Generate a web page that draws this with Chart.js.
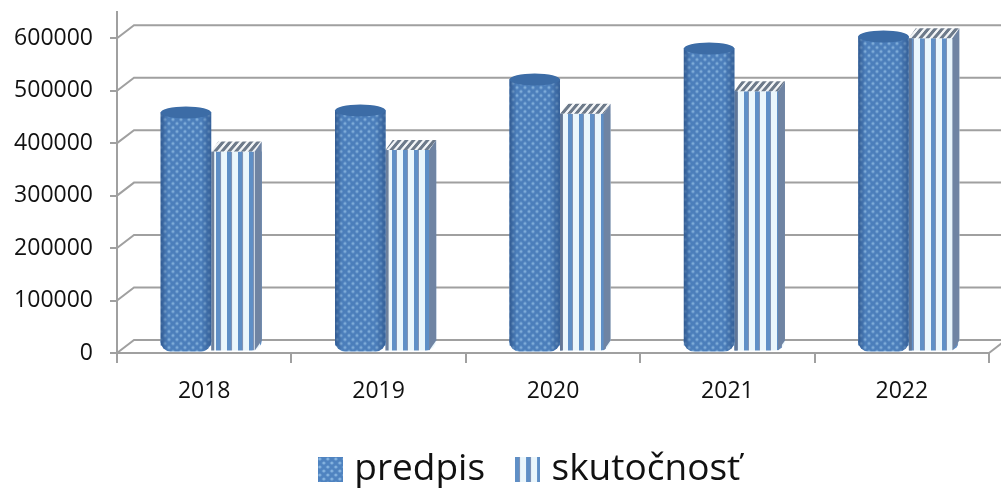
<!DOCTYPE html>
<html>
<head>
<meta charset="utf-8">
<style>
  html, body { margin: 0; background: #fff; }
  canvas { display: block; }
</style>
<script src="https://cdn.jsdelivr.net/npm/chart.js@4"></script>
</head>
<body>
<canvas id="chart" width="1001" height="488"></canvas>
<script>
const years = ['2018', '2019', '2020', '2021', '2022'];
const predpis = [446000, 450000, 509000, 568000, 591000];
const skutocnost = [381000, 384000, 453000, 496000, 597000];
const seriesNames = ['predpis', 'skutočnosť'];
const yTicks = [0, 100000, 200000, 300000, 400000, 500000, 600000];

const GRID = '#a0a0a0';
const FONT = "'Open Sans', sans-serif";
const DEPTH_X = 17, DEPTH_Y = 13;

function makeTile(w, h, paint) {
  const c = document.createElement('canvas');
  c.width = w; c.height = h;
  paint(c.getContext('2d'));
  return c;
}

// dotted fill of the cylinders
const dotTile = makeTile(8, 8, g => {
  g.fillStyle = '#4f83c0';
  g.fillRect(0, 0, 8, 8);
  g.fillStyle = '#86b4e0';
  [[2, 2], [6, 6]].forEach(p => {
    g.beginPath();
    g.arc(p[0], p[1], 1.6, 0, Math.PI * 2);
    g.fill();
  });
});

// vertical stripes of the boxes
const stripeTile = makeTile(11, 4, g => {
  g.fillStyle = '#eaf6fc';
  g.fillRect(0, 0, 11, 4);
  g.fillStyle = '#5f8fc6';
  g.fillRect(0, 0, 4, 4);
  g.fillStyle = '#7f93b5';
  g.fillRect(4, 0, 1, 4);
});

const capTile = makeTile(7, 4, g => {
  g.fillStyle = '#f2f4f6';
  g.fillRect(0, 0, 7, 4);
  g.fillStyle = '#6d7a8a';
  g.fillRect(0, 0, 4, 4);
});

function legendSwatch(tile, size) {
  return makeTile(size, size, g => {
    g.fillStyle = g.createPattern(tile, 'repeat');
    g.fillRect(0, 0, size, size);
  });
}

const ctxMain = document.getElementById('chart').getContext('2d');
const dotFill = ctxMain.createPattern(dotTile, 'repeat');
const stripeFill = ctxMain.createPattern(stripeTile, 'repeat');
const capFill = ctxMain.createPattern(capTile, 'repeat');
capFill.setTransform(new DOMMatrix([1, 0, -0.85, 1, 0, 0]));

// legend sits right of the page centre, under the plot
const legendShift = {
  id: 'legendShift',
  afterLayout(chart) {
    chart.legend.left += 38;
    chart.legend.right += 38;
  }
};

// back wall and the slanted lines joining it to the axis
const wallPlugin = {
  id: 'wall',
  beforeDatasetsDraw(chart) {
    const { ctx, chartArea, scales } = chart;
    ctx.save();
    ctx.strokeStyle = GRID;
    ctx.lineWidth = 2;
    scales.y.ticks.forEach(t => {
      const y = scales.y.getPixelForValue(t.value);
      ctx.beginPath();
      ctx.moveTo(chartArea.left, y);
      ctx.lineTo(chartArea.left + DEPTH_X, y - DEPTH_Y);
      ctx.lineTo(chartArea.right + DEPTH_X, y - DEPTH_Y);
      ctx.stroke();
    });
    const y0 = scales.y.getPixelForValue(0);
    ctx.beginPath();
    ctx.moveTo(chartArea.right, y0);
    ctx.lineTo(chartArea.right + DEPTH_X, y0 - DEPTH_Y);
    ctx.stroke();
    ctx.restore();
  }
};

// bars stand in the middle of the floor, cylinder and box caps go on top
const shapePlugin = {
  id: 'shape3d',
  beforeDatasetDraw(chart, args) {
    const { ctx } = chart;
    ctx.save();
    ctx.translate(DEPTH_X / 2 - 1.5, args.index === 0 ? -DEPTH_Y / 2 : -1.5);
  },
  afterDatasetDraw(chart, args) {
    const { ctx } = chart;
    chart.getDatasetMeta(args.index).data.forEach(bar => {
      const left = bar.x - bar.width / 2;
      const right = bar.x + bar.width / 2;
      if (args.index === 0) drawCylinder(ctx, left, right, bar.y, bar.base);
      else drawBox(ctx, left, right, bar.y, bar.base);
    });
    ctx.restore();
  }
};

function drawCylinder(ctx, left, right, top, base) {
  // rounded foot below the bar's base line
  ctx.fillStyle = dotFill;
  ctx.beginPath();
  ctx.roundRect(left, base - 6, right - left, 12, [0, 0, 10, 10]);
  ctx.fill();

  const shade = ctx.createLinearGradient(left, 0, right, 0);
  shade.addColorStop(0, 'rgba(35,72,125,0.7)');
  shade.addColorStop(0.14, 'rgba(35,72,125,0.08)');
  shade.addColorStop(0.8, 'rgba(35,72,125,0.08)');
  shade.addColorStop(1, 'rgba(35,72,125,0.6)');
  ctx.fillStyle = shade;
  ctx.beginPath();
  ctx.roundRect(left, top, right - left, base - top + 6, [0, 0, 10, 10]);
  ctx.fill();
  ctx.fillStyle = '#3c6ca6';
  ctx.beginPath();
  ctx.ellipse((left + right) / 2, top, (right - left) / 2, 6, 0, 0, Math.PI * 2);
  ctx.fill();
}

function drawBox(ctx, left, right, top, base) {
  const dx = 7, dy = 10;
  ctx.fillStyle = capFill;
  ctx.beginPath();
  ctx.moveTo(left, top);
  ctx.lineTo(right - dx, top);
  ctx.lineTo(right, top - dy);
  ctx.lineTo(left + dx, top - dy);
  ctx.closePath();
  ctx.fill();
  ctx.fillStyle = '#6f84a3';
  ctx.beginPath();
  ctx.moveTo(right - dx, top);
  ctx.lineTo(right, top - dy);
  ctx.lineTo(right, base - dy);
  ctx.lineTo(right - dx, base);
  ctx.closePath();
  ctx.fill();
  ctx.fillStyle = 'rgba(95,115,145,0.9)';
  ctx.fillRect(left, top, 3, base - top);
}

new Chart(ctxMain, {
  type: 'bar',
  data: {
    labels: years,
    datasets: [
      {
        label: seriesNames[0],
        data: predpis,
        backgroundColor: dotFill,
        borderSkipped: false,
        clip: false,
      },
      {
        label: seriesNames[1],
        data: skutocnost,
        backgroundColor: stripeFill,
        borderRadius: { bottomRight: 10 },
        borderSkipped: false,
        clip: false,
      },
    ],
  },
  plugins: [legendShift, wallPlugin, shapePlugin],
  options: {
    responsive: false,
    animation: false,
    layout: { padding: { top: 12, right: 12, bottom: -10 } },
    datasets: { bar: { categoryPercentage: 0.58, barPercentage: 1 } },
    plugins: {
      tooltip: { enabled: false },
      legend: {
        position: 'bottom',
        labels: {
          usePointStyle: true,
          pointStyleWidth: 11,
          padding: 37,
          color: '#111',
          font: { family: FONT, size: 37 },
          generateLabels: () => [
            { text: seriesNames[0], datasetIndex: 0, pointStyle: legendSwatch(dotTile, 25), fontColor: '#111' },
            { text: seriesNames[1], datasetIndex: 1, pointStyle: legendSwatch(stripeTile, 25), fontColor: '#111' },
          ],
        },
      },
    },
    scales: {
      x: {
        afterFit: s => { s.height = 61; },
        border: { color: GRID, width: 2 },
        grid: { drawOnChartArea: false, color: GRID, lineWidth: 2, tickLength: 10 },
        ticks: {
          color: '#111',
          padding: 15,
          maxRotation: 0,
          font: { family: FONT, size: 23 },
        },
      },
      y: {
        min: 0,
        max: 650000,
        afterFit: s => {
          s.width = 117;
          s.paddingTop = 0;
          s.paddingBottom = 0;
        },
        afterBuildTicks: s => { s.ticks = yTicks.map(v => ({ value: v })); },
        border: { color: GRID, width: 2 },
        grid: { drawOnChartArea: false, color: GRID, lineWidth: 2, tickLength: 7 },
        ticks: {
          color: '#111',
          padding: 17,
          font: { family: FONT, size: 23 },
          callback: v => String(v),
        },
      },
    },
  },
});
</script>
</body>
</html>
